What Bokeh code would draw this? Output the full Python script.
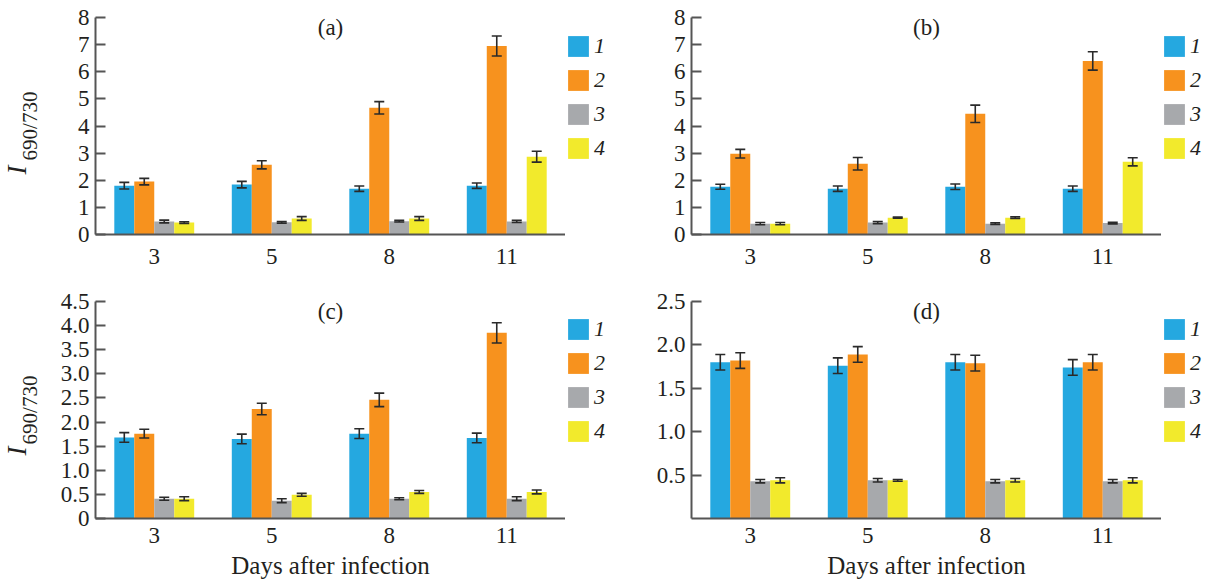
import math
from bokeh.plotting import figure
from bokeh.models import (FactorRange, Range1d, ColumnDataSource, Whisker, TeeHead,
                          Legend, LegendItem, Label, Title, FixedTicker,
                          PrintfTickFormatter)
from bokeh.transform import dodge
from bokeh.layouts import column, row
from bokeh.embed import file_html
from bokeh.resources import INLINE

# ---------------- data ----------------
days = ["3", "5", "8", "11"]
series_names = ["1", "2", "3", "4"]
colors = ["#25A8E0", "#F7921E", "#A7A9AC", "#F2EA2C"]

# panel (a)
a1 = [1.80, 1.84, 1.69, 1.80]
a2 = [1.95, 2.57, 4.67, 6.95]
a3 = [0.48, 0.45, 0.49, 0.48]
a4 = [0.44, 0.59, 0.59, 2.87]
a1_err = [0.12, 0.12, 0.10, 0.10]
a2_err = [0.12, 0.15, 0.23, 0.37]
a3_err = [0.05, 0.03, 0.03, 0.04]
a4_err = [0.03, 0.07, 0.07, 0.20]

# panel (b)
b1 = [1.76, 1.69, 1.76, 1.69]
b2 = [2.98, 2.61, 4.45, 6.40]
b3 = [0.40, 0.44, 0.40, 0.42]
b4 = [0.40, 0.62, 0.62, 2.68]
b1_err = [0.09, 0.10, 0.10, 0.10]
b2_err = [0.16, 0.23, 0.32, 0.34]
b3_err = [0.04, 0.04, 0.03, 0.03]
b4_err = [0.04, 0.02, 0.03, 0.15]

# panel (c)
c1 = [1.68, 1.65, 1.76, 1.67]
c2 = [1.76, 2.27, 2.46, 3.85]
c3 = [0.41, 0.37, 0.41, 0.41]
c4 = [0.41, 0.49, 0.55, 0.55]
c1_err = [0.10, 0.10, 0.10, 0.10]
c2_err = [0.09, 0.12, 0.14, 0.21]
c3_err = [0.03, 0.04, 0.02, 0.04]
c4_err = [0.04, 0.03, 0.03, 0.04]

# panel (d)
d1 = [1.80, 1.76, 1.80, 1.74]
d2 = [1.82, 1.89, 1.79, 1.80]
d3 = [0.43, 0.44, 0.43, 0.43]
d4 = [0.44, 0.44, 0.44, 0.44]
d1_err = [0.09, 0.09, 0.09, 0.09]
d2_err = [0.09, 0.09, 0.09, 0.09]
d3_err = [0.02, 0.02, 0.02, 0.02]
d4_err = [0.03, 0.01, 0.02, 0.03]

ticks_ab = [0, 1, 2, 3, 4, 5, 6, 7, 8]
ticks_c = [0, 0.5, 1.0, 1.5, 2.0, 2.5, 3.0, 3.5, 4.0, 4.5]
ticks_d = [0.5, 1.0, 1.5, 2.0, 2.5]

# ---------------- style ----------------
FONT = "Liberation Serif"
TXT = "#231f20"
AX = "#555555"
BAR_W = 0.17
OFFSETS = [-0.255, -0.085, 0.085, 0.255]
FRAME_W, FRAME_H = 470, 217


def make_panel(vals, errs, y_end, ticks, fmt, overrides, letter,
               top_row, left_col, ylab_standoff=None, i_offset=60):
    b_left = 95 if left_col else 83
    b_top = 17 if top_row else 25
    b_bottom = 42 if top_row else 63
    p = figure(x_range=FactorRange(factors=days), y_range=Range1d(0, y_end),
               width=b_left + FRAME_W, height=b_top + FRAME_H + b_bottom,
               min_border_left=b_left, min_border_right=0,
               min_border_top=b_top, min_border_bottom=b_bottom,
               output_backend="svg", toolbar_location=None, tools="")
    p.outline_line_color = None
    p.xgrid.visible = False
    p.ygrid.visible = False

    for i in range(4):
        src = ColumnDataSource(data=dict(
            day=days, top=vals[i],
            upper=[v + e for v, e in zip(vals[i], errs[i])],
            lower=[v - e for v, e in zip(vals[i], errs[i])]))
        p.vbar(x=dodge("day", OFFSETS[i], range=p.x_range), top="top",
               width=BAR_W, source=src, fill_color=colors[i], line_color=None)
        w = Whisker(source=src, base=dodge("day", OFFSETS[i], range=p.x_range),
                    upper="upper", lower="lower", dimension="height",
                    level="overlay",
                    line_color="#2a2a2a", line_width=1.6,
                    upper_head=TeeHead(size=10, line_color="#2a2a2a", line_width=1.6),
                    lower_head=TeeHead(size=10, line_color="#2a2a2a", line_width=1.6))
        p.add_layout(w)

    # axes
    for ax in (p.xaxis[0], p.yaxis[0]):
        ax.axis_line_color = AX
        ax.axis_line_width = 2
        ax.major_tick_line_color = AX
        ax.major_tick_line_width = 2
        ax.minor_tick_line_color = None
        ax.major_label_text_font = FONT
        ax.major_label_text_font_size = "23px"
        ax.major_label_text_color = TXT

    p.xaxis.major_tick_in = 0
    p.xaxis.major_tick_out = 0
    p.xaxis.major_label_standoff = 14 if top_row else 9
    if not top_row:
        p.xaxis.axis_label = "Days after infection"
        p.xaxis.axis_label_text_font = FONT
        p.xaxis.axis_label_text_font_size = "25px"
        p.xaxis.axis_label_text_font_style = "normal"
        p.xaxis.axis_label_text_color = TXT
        p.xaxis.axis_label_standoff = 6

    p.yaxis.ticker = FixedTicker(ticks=ticks)
    p.yaxis.formatter = PrintfTickFormatter(format=fmt)
    if overrides:
        p.yaxis.major_label_overrides = overrides
    p.yaxis.major_tick_in = 10
    p.yaxis.major_tick_out = 0
    p.yaxis.major_label_standoff = 6

    # panel letter
    p.add_layout(Label(x=2.0, y=y_end, y_offset=3, text=letter,
                       text_align="center", text_baseline="top",
                       text_font=FONT, text_font_size="23px", text_color=TXT))

    # y-axis label  I_{690/730}: subscript as axis label, "I" as a side title
    if ylab_standoff is not None:
        p.yaxis.axis_label = "690/730"
        p.yaxis.axis_label_text_font = FONT
        p.yaxis.axis_label_text_font_size = "21px"
        p.yaxis.axis_label_text_font_style = "normal"
        p.yaxis.axis_label_text_color = TXT
        p.yaxis.axis_label_standoff = ylab_standoff
        p.add_layout(Title(text="I", align="left", offset=i_offset,
                           vertical_align="bottom", standoff=-34,
                           text_font=FONT, text_font_style="italic",
                           text_font_size="27px", text_color=TXT), "left")
    return p


def make_legend_fig(width, height, title_gap):
    """Narrow companion figure that only holds the 1-4 legend."""
    lf = figure(width=width, height=height, x_range=Range1d(0, 1),
                y_range=Range1d(0, 1), min_border=0, min_border_left=0,
                min_border_right=0, min_border_top=0, min_border_bottom=0,
                x_axis_location=None, y_axis_location=None,
                output_backend="svg", toolbar_location=None, tools="")
    lf.outline_line_color = None
    lf.xgrid.visible = False
    lf.ygrid.visible = False
    items = []
    for i in range(4):
        # zero-size swatch carrier (nothing visible in the frame)
        r = lf.vbar(x=[0.5], top=[0], width=0, fill_color=colors[i],
                    line_color=None)
        items.append(LegendItem(label=series_names[i], renderers=[r]))
    legend = Legend(items=items, location="top_left", title=" ",
                    title_text_font_size="10px", title_standoff=title_gap,
                    orientation="vertical", glyph_width=26, glyph_height=26,
                    spacing=8, padding=0, margin=0, label_standoff=3,
                    border_line_color=None, background_fill_alpha=0,
                    label_text_font=FONT, label_text_font_style="italic",
                    label_text_font_size="22px", label_text_color=TXT,
                    label_height=20)
    lf.add_layout(legend, "center")
    return lf


H_TOP, H_BOT = 276, 305

pa = make_panel([a1, a2, a3, a4], [a1_err, a2_err, a3_err, a4_err], 8, ticks_ab,
                "%d", None, "(a)", True, True, ylab_standoff=33, i_offset=60)
pb = make_panel([b1, b2, b3, b4], [b1_err, b2_err, b3_err, b4_err], 8, ticks_ab,
                "%d", None, "(b)", True, False)
pc = make_panel([c1, c2, c3, c4], [c1_err, c2_err, c3_err, c4_err], 4.5, ticks_c,
                "%.1f", {0: "0"}, "(c)", False, True, ylab_standoff=16, i_offset=63)
pd = make_panel([d1, d2, d3, d4], [d1_err, d2_err, d3_err, d4_err], 2.5, ticks_d,
                "%.1f", None, "(d)", False, False)

la = make_legend_fig(43, H_TOP, 5)
lb = make_legend_fig(48, H_TOP, 5)
lc = make_legend_fig(43, H_BOT, 4)
ld = make_legend_fig(48, H_BOT, 4)

layout = column(row(pa, la, pb, lb), row(pc, lc, pd, ld))
open("out.html", "w").write(file_html(layout, INLINE))
